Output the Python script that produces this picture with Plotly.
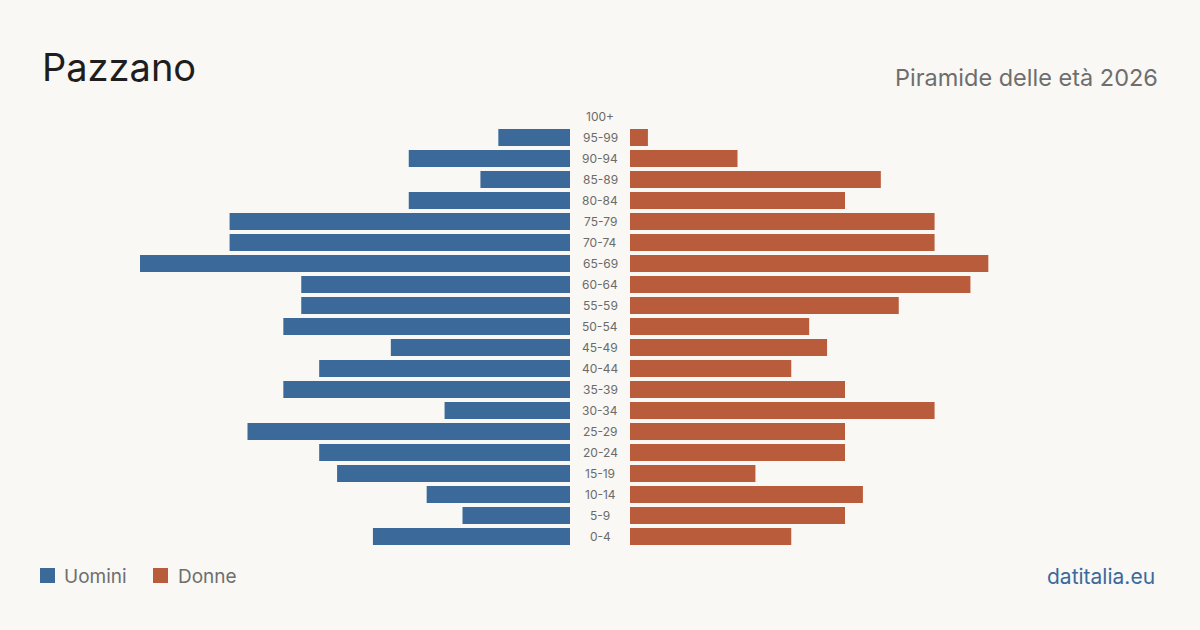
import plotly.graph_objects as go

age_groups = ["0-4", "5-9", "10-14", "15-19", "20-24", "25-29", "30-34", "35-39", "40-44", "45-49",
              "50-54", "55-59", "60-64", "65-69", "70-74", "75-79", "80-84", "85-89", "90-94", "95-99", "100+"]
men = [11, 6, 8, 13, 14, 18, 7, 16, 14, 10, 16, 15, 15, 24, 19, 19, 9, 5, 9, 4, 0]
women = [9, 12, 13, 7, 12, 12, 17, 12, 9, 11, 10, 15, 19, 20, 17, 17, 12, 14, 6, 1, 0]

blue = "#3b6a9a"
orange = "#b95c3c"
bg = "#f9f8f4"
font = "Inter"

fig = go.Figure()
fig.add_trace(go.Bar(y=age_groups, x=men, orientation="h", marker=dict(color=blue, line_width=0),
                     xaxis="x", yaxis="y", name="Uomini", showlegend=False))
fig.add_trace(go.Bar(y=age_groups, x=women, orientation="h", marker=dict(color=orange, line_width=0),
                     xaxis="x2", yaxis="y", name="Donne", showlegend=False))

W, H = 1200, 630
y_bottom = (H - 547) / H
y_top = (H - 106) / H

fig.update_layout(
    width=W, height=H,
    margin=dict(l=0, r=0, t=0, b=0),
    paper_bgcolor=bg, plot_bgcolor=bg,
    bargap=0.19,
    font=dict(family=font),
    xaxis=dict(domain=[140 / W, 570 / W], range=[24, 0], visible=False, fixedrange=True),
    xaxis2=dict(domain=[630 / W, 1060 / W], range=[0, 24], visible=False, fixedrange=True),
    yaxis=dict(domain=[y_bottom, y_top], range=[-0.5, 20.5], visible=False,
               categoryorder="array", categoryarray=age_groups),
)

annotations = []
for g in age_groups:
    annotations.append(dict(x=600 / W, xref="paper", y=g, yref="y", text=g, showarrow=False,
                            xanchor="center", yanchor="middle",
                            font=dict(size=12, color="#6b6b6b", family=font)))

annotations += [
    dict(x=40 / W, y=(H - 67) / H, xref="paper", yref="paper", text="Pazzano", showarrow=False,
         xanchor="left", yanchor="middle", font=dict(size=38, color="#1e1e1e", family=font)),
    dict(x=1160 / W, y=(H - 77) / H, xref="paper", yref="paper", text="Piramide delle età 2026",
         showarrow=False, xanchor="right", yanchor="middle", font=dict(size=23.5, color="#6e6e6e", family=font)),
    dict(x=62 / W, y=(H - 576) / H, xref="paper", yref="paper", text="Uomini", showarrow=False,
         xanchor="left", yanchor="middle", font=dict(size=19, color="#6e6e6e", family=font)),
    dict(x=176 / W, y=(H - 576) / H, xref="paper", yref="paper", text="Donne", showarrow=False,
         xanchor="left", yanchor="middle", font=dict(size=19, color="#6e6e6e", family=font)),
    dict(x=1157 / W, y=(H - 576) / H, xref="paper", yref="paper", text="datitalia.eu", showarrow=False,
         xanchor="right", yanchor="middle", font=dict(size=21, color="#3b6a9a", family=font)),
]

shapes = [
    dict(type="rect", xref="paper", yref="paper", x0=40 / W, x1=55 / W, y0=(H - 583) / H, y1=(H - 568) / H,
         fillcolor=blue, line_width=0),
    dict(type="rect", xref="paper", yref="paper", x0=153 / W, x1=168 / W, y0=(H - 583) / H, y1=(H - 568) / H,
         fillcolor=orange, line_width=0),
]

fig.update_layout(annotations=annotations, shapes=shapes)
fig.write_html("out.html", config={"displayModeBar": False})
